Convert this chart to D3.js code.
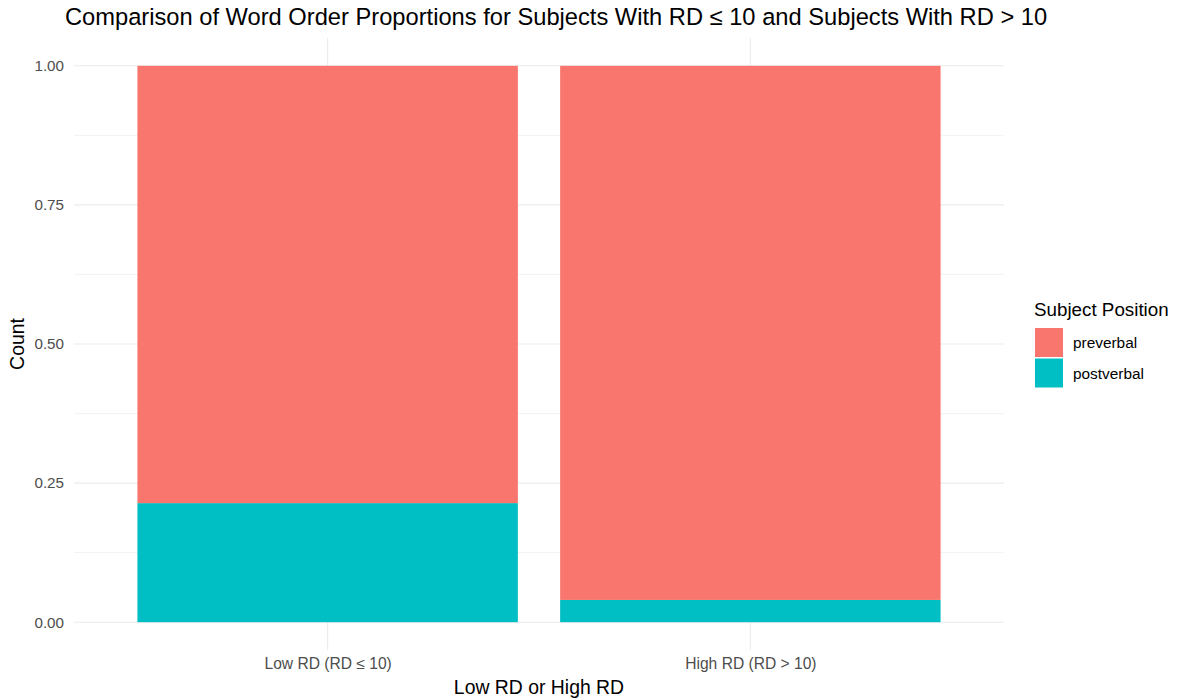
<!DOCTYPE html>
<html><head><meta charset="utf-8">
<script src="https://cdn.jsdelivr.net/npm/d3@7"></script>
<style>body{margin:0;background:#fff;font-family:"Liberation Sans",Arial,Helvetica,sans-serif;}</style>
</head><body>
<svg id="c" width="1180" height="700"></svg>
<script>
const categories = ["Low RD (RD \u2264 10)", "High RD (RD > 10)"];
const positions = ["preverbal", "postverbal"];
const postverbal = [0.214, 0.040];
const preverbal = [0.786, 0.960];
const yTicks = [0, 0.25, 0.5, 0.75, 1.0];
const colors = ["#F8766D", "#00BFC4"];

const FONT = "Liberation Sans, Arial, sans-serif";
const svg = d3.select("#c");
const panel = {left: 74, right: 1004, top: 38, bottom: 650};

const x = d3.scaleLinear().domain([0.4, categories.length + 0.6]).range([panel.left, panel.right]);
const y = d3.scaleLinear().domain([-0.05, 1.05]).range([panel.bottom, panel.top]);

const minor = [0.125, 0.375, 0.625, 0.875];
svg.append("g").selectAll("line").data(minor).join("line")
  .attr("x1", panel.left).attr("x2", panel.right)
  .attr("y1", d => y(d)).attr("y2", d => y(d))
  .attr("stroke", "#EBEBEB").attr("stroke-width", 0.6);
svg.append("g").selectAll("line").data(yTicks).join("line")
  .attr("x1", panel.left).attr("x2", panel.right)
  .attr("y1", d => y(d)).attr("y2", d => y(d))
  .attr("stroke", "#EBEBEB").attr("stroke-width", 1.1);
svg.append("g").selectAll("line").data(categories).join("line")
  .attr("x1", (d, i) => x(i + 1)).attr("x2", (d, i) => x(i + 1))
  .attr("y1", panel.top).attr("y2", panel.bottom)
  .attr("stroke", "#EBEBEB").attr("stroke-width", 1.1);

const rows = categories.map((c, i) => ({cat: c, i: i, preverbal: preverbal[i], postverbal: postverbal[i]}));
const series = d3.stack().keys(["postverbal", "preverbal"])(rows);
const color = d3.scaleOrdinal().domain(positions).range(colors);
const halfW = 0.45;
svg.append("g").selectAll("g").data(series).join("g")
  .attr("fill", s => color(s.key))
  .selectAll("rect").data(s => s).join("rect")
  .attr("x", d => x(d.data.i + 1 - halfW))
  .attr("width", d => x(d.data.i + 1 + halfW) - x(d.data.i + 1 - halfW))
  .attr("y", d => y(d[1]))
  .attr("height", d => y(d[0]) - y(d[1]));

const yAxis = d3.axisLeft(y).tickValues(yTicks).tickFormat(d3.format(".2f")).tickSize(0).tickPadding(10);
const ya = svg.append("g").attr("transform", `translate(${panel.left},0)`).call(yAxis);
ya.select(".domain").remove();
ya.selectAll("text").attr("font-size", 15.2).attr("fill", "#4D4D4D").attr("font-family", FONT);

const xAxis = d3.axisBottom(x).tickValues(categories.map((c, i) => i + 1)).tickFormat(d => categories[d - 1]).tickSize(0).tickPadding(8);
const xa = svg.append("g").attr("transform", `translate(0,${panel.bottom})`).call(xAxis);
xa.select(".domain").remove();
xa.selectAll("text").attr("font-size", 15.6).attr("fill", "#4D4D4D").attr("font-family", FONT);

svg.append("text").attr("x", 65).attr("y", 25).attr("font-size", 23.7).attr("fill", "#000").attr("font-family", FONT)
  .text("Comparison of Word Order Proportions for Subjects With RD \u2264 10 and Subjects With RD > 10");
svg.append("text").attr("x", (panel.left + panel.right) / 2).attr("y", 694).attr("text-anchor", "middle")
  .attr("font-size", 19.4).attr("fill", "#000").attr("font-family", FONT).text("Low RD or High RD");
svg.append("text").attr("transform", `translate(24,${(panel.top + panel.bottom) / 2}) rotate(-90)`)
  .attr("text-anchor", "middle").attr("font-size", 19.4).attr("fill", "#000").attr("font-family", FONT).text("Count");

const lg = svg.append("g").attr("transform", "translate(1034,0)");
lg.append("text").attr("x", 0).attr("y", 316).attr("font-size", 18.8).attr("fill", "#000").attr("font-family", FONT).text("Subject Position");
positions.forEach((p, i) => {
  lg.append("rect").attr("x", 1).attr("y", 328 + i * 30.5).attr("width", 28).attr("height", 29).attr("fill", color(p));
  lg.append("text").attr("x", 39).attr("y", 348 + i * 30.5).attr("font-size", 15.4).attr("fill", "#000").attr("font-family", FONT).text(p);
});
</script>
</body></html>
